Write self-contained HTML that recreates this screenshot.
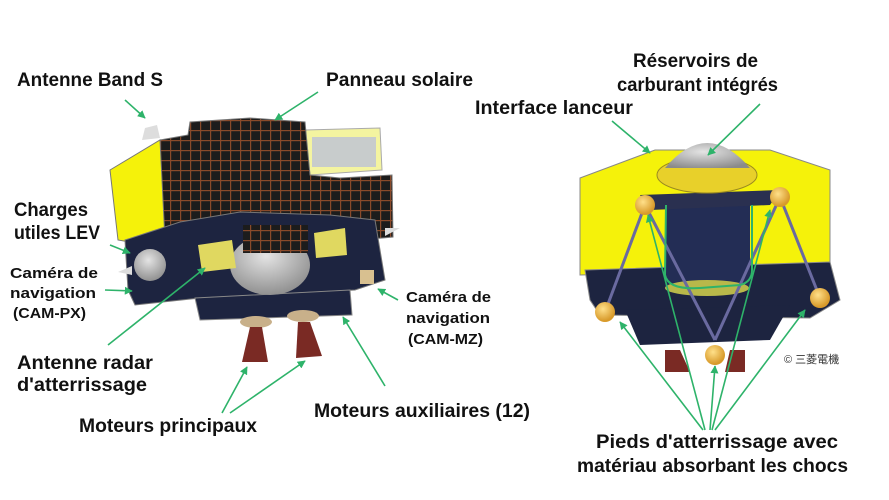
<!DOCTYPE html>
<html><head><meta charset="utf-8"><style>
html,body{margin:0;padding:0;background:#fff;}
svg{display:block}
text{font-family:"Liberation Sans","Noto Sans CJK JP",sans-serif;font-weight:bold;fill:#111;}
</style></head><body>
<svg width="889" height="500" viewBox="0 0 889 500" xmlns="http://www.w3.org/2000/svg">
<defs>
<marker id="a" viewBox="0 0 10 10" refX="9" refY="5" markerWidth="5" markerHeight="5" orient="auto"><path d="M0,0L10,5L0,10z" fill="#2eb36a"/></marker>
<pattern id="sp" width="10" height="10" patternUnits="userSpaceOnUse"><rect width="10" height="10" fill="#1c1c1c"/><rect x="0" y="0" width="10" height="1.2" fill="#8a4a2a"/><rect x="0" y="0" width="1.2" height="10" fill="#8a4a2a"/></pattern>
<radialGradient id="ball" cx="0.4" cy="0.35" r="0.6"><stop offset="0" stop-color="#ffe08a"/><stop offset="1" stop-color="#d89a2a"/></radialGradient>
<radialGradient id="dome" cx="0.45" cy="0.35" r="0.7"><stop offset="0" stop-color="#e4e4e4"/><stop offset="1" stop-color="#8a8a8a"/></radialGradient>
</defs>
<rect width="889" height="500" fill="#fff"/>

<!-- LEFT LANDER -->
<polygon points="110,170 160,140 175,250 118,240" fill="#f5f20a" stroke="#777"/>
<polygon points="305,130 380,128 382,170 310,175" fill="#f4f4a0" stroke="#aaa"/>
<rect x="312" y="137" width="64" height="30" fill="#c8cccc"/>
<polygon points="160,140 188,135 190,122 250,118 305,122 310,175 340,178 392,175 393,237 250,250 165,240" fill="url(#sp)" stroke="#777"/>
<polygon points="125,240 180,222 240,212 330,215 375,220 385,280 355,290 200,298 135,305 128,290" fill="#1d2440" stroke="#777"/>
<polygon points="195,298 350,290 352,315 200,320" fill="#1d2440" stroke="#888"/>
<ellipse cx="270" cy="265" rx="40" ry="30" fill="url(#dome)"/>
<rect x="243" y="225" width="65" height="28" fill="url(#sp)"/>
<polygon points="198,245 232,240 236,268 202,272" fill="#e0d860"/>
<polygon points="314,233 345,228 347,255 316,258" fill="#e0d860"/>
<circle cx="150" cy="265" r="16" fill="url(#dome)"/>
<polygon points="132,275 118,272 132,266" fill="#ddd"/>
<polygon points="385,228 400,228 385,236" fill="#ddd"/>
<polygon points="145,128 157,125 160,138 142,140" fill="#ddd"/>
<rect x="360" y="270" width="14" height="14" fill="#d8c090"/>
<ellipse cx="256" cy="322" rx="16" ry="6" fill="#c8b08a"/>
<ellipse cx="303" cy="316" rx="16" ry="6" fill="#c8b08a"/>
<polygon points="250,327 262,327 268,362 242,362" fill="#7a2a24"/>
<polygon points="298,322 310,322 322,356 296,358" fill="#7a2a24"/>

<!-- RIGHT LANDER -->
<polygon points="580,178 655,150 770,150 830,170 830,270 580,275" fill="#f5f20a" stroke="#888"/>
<polygon points="585,270 830,262 840,300 810,318 600,315 590,300" fill="#1d2440" stroke="#888"/>
<polygon points="625,310 790,305 770,340 640,345" fill="#1d2440"/>
<rect x="665" y="195" width="85" height="95" fill="#232d55"/>
<ellipse cx="707" cy="288" rx="42" ry="8" fill="#b8b84a"/>
<polygon points="640,195 780,190 770,205 650,210" fill="#2a3050"/>
<ellipse cx="707" cy="175" rx="50" ry="18" fill="#e8d02a" stroke="#9a8a20"/>
<path d="M665,168 Q707,118 750,168 Z" fill="url(#dome)"/>
<polygon points="665,350 680,350 690,372 665,372" fill="#7a2a24"/>
<polygon points="730,350 745,350 745,372 725,372" fill="#7a2a24"/>
<g stroke="#6a6aa0" stroke-width="3">
<line x1="645" y1="205" x2="605" y2="312"/><line x1="780" y1="197" x2="820" y2="298"/>
<line x1="645" y1="205" x2="715" y2="340"/><line x1="780" y1="197" x2="715" y2="340"/>
</g>
<path d="M666,205 L665,275 Q668,290 700,288 L740,285 Q752,282 752,270 L752,205" fill="none" stroke="#2eb36a" stroke-width="2"/>
<circle cx="605" cy="312" r="10" fill="url(#ball)"/>
<circle cx="645" cy="205" r="10" fill="url(#ball)"/>
<circle cx="780" cy="197" r="10" fill="url(#ball)"/>
<circle cx="820" cy="298" r="10" fill="url(#ball)"/>
<circle cx="715" cy="355" r="10" fill="url(#ball)"/>
<text x="784" y="363" font-size="11" style="font-weight:normal;fill:#333">© 三菱電機</text>

<!-- CONNECTORS -->
<g stroke="#2eb36a" stroke-width="1.6" fill="none" marker-end="url(#a)">
<line x1="125" y1="100" x2="145" y2="118"/>
<line x1="318" y1="92" x2="275" y2="120"/>
<line x1="110" y1="245" x2="130" y2="253"/>
<line x1="105" y1="290" x2="132" y2="291"/>
<line x1="108" y1="345" x2="205" y2="268"/>
<line x1="398" y1="300" x2="378" y2="289"/>
<line x1="385" y1="386" x2="343" y2="317"/>
<line x1="222" y1="413" x2="247" y2="367"/>
<line x1="230" y1="413" x2="305" y2="361"/>
<line x1="612" y1="121" x2="650" y2="153"/>
<line x1="760" y1="104" x2="708" y2="155"/>
<line x1="703" y1="430" x2="620" y2="322"/>
<line x1="705" y1="430" x2="648" y2="215"/>
<line x1="710" y1="430" x2="715" y2="366"/>
<line x1="712" y1="430" x2="770" y2="210"/>
<line x1="715" y1="430" x2="805" y2="310"/>
</g>

<!-- LABELS -->
<g font-size="19">
<text x="17" y="86" textLength="146" lengthAdjust="spacingAndGlyphs">Antenne Band S</text>
<text x="326" y="86" textLength="147" lengthAdjust="spacingAndGlyphs">Panneau solaire</text>
<text x="14" y="216" textLength="74" lengthAdjust="spacingAndGlyphs">Charges</text>
<text x="14" y="239" textLength="86" lengthAdjust="spacingAndGlyphs">utiles LEV</text>
<text x="17" y="369" textLength="136" lengthAdjust="spacingAndGlyphs">Antenne radar</text>
<text x="17" y="391" textLength="130" lengthAdjust="spacingAndGlyphs">d'atterrissage</text>
<text x="79" y="432" textLength="178" lengthAdjust="spacingAndGlyphs">Moteurs principaux</text>
<text x="314" y="417" textLength="216" lengthAdjust="spacingAndGlyphs">Moteurs auxiliaires (12)</text>
<text x="633" y="67" textLength="125" lengthAdjust="spacingAndGlyphs">Réservoirs de</text>
<text x="617" y="91" textLength="161" lengthAdjust="spacingAndGlyphs">carburant intégrés</text>
<text x="475" y="114" textLength="158" lengthAdjust="spacingAndGlyphs">Interface lanceur</text>
<text x="596" y="448" textLength="242" lengthAdjust="spacingAndGlyphs">Pieds d'atterrissage avec</text>
<text x="577" y="472" textLength="271" lengthAdjust="spacingAndGlyphs">matériau absorbant les chocs</text>
</g>
<g font-size="15">
<text x="10" y="278" textLength="88" lengthAdjust="spacingAndGlyphs">Caméra de</text>
<text x="10" y="298" textLength="86" lengthAdjust="spacingAndGlyphs">navigation</text>
<text x="13" y="318" textLength="73" lengthAdjust="spacingAndGlyphs">(CAM-PX)</text>
<text x="406" y="302" textLength="85" lengthAdjust="spacingAndGlyphs">Caméra de</text>
<text x="406" y="323" textLength="84" lengthAdjust="spacingAndGlyphs">navigation</text>
<text x="408" y="344" textLength="75" lengthAdjust="spacingAndGlyphs">(CAM-MZ)</text>
</g>
</svg>
</body></html>
